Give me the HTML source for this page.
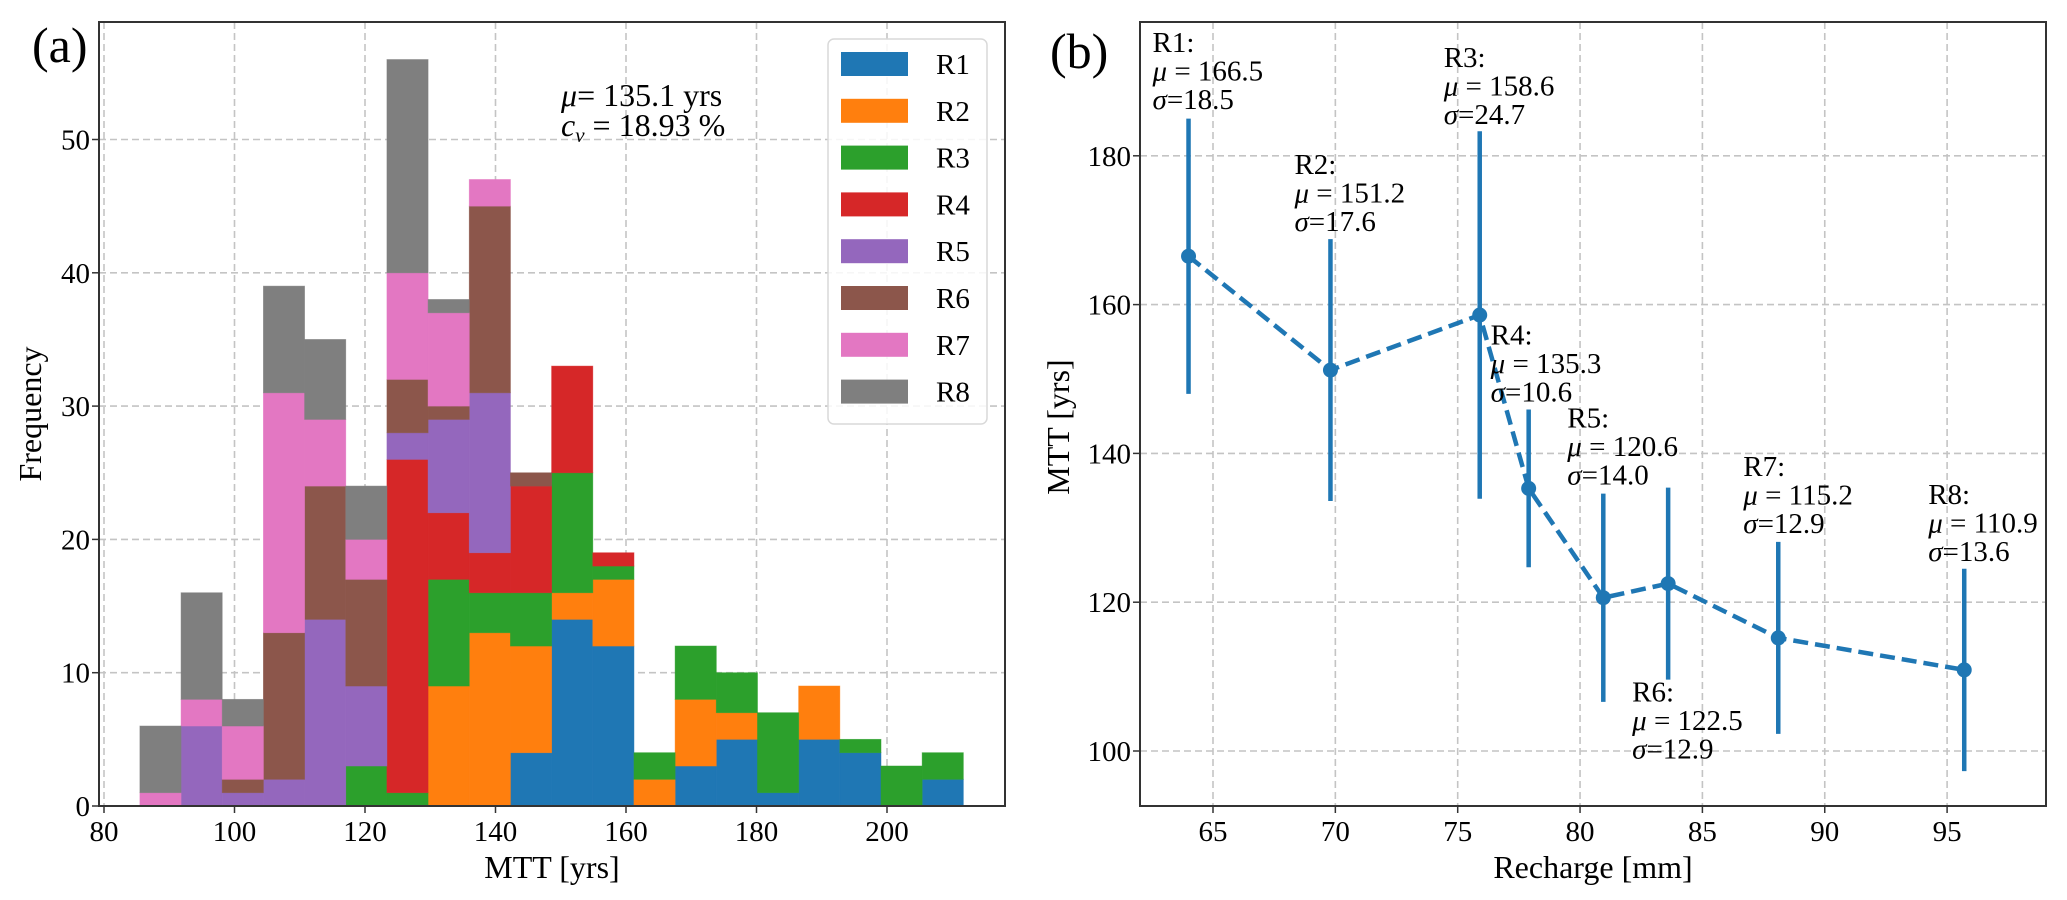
<!DOCTYPE html>
<html><head><meta charset="utf-8"><style>
html,body{margin:0;padding:0;background:#fff;}
svg{display:block;font-family:"Liberation Serif",serif;}
</style></head><body>
<svg id="fig" width="2067" height="900" viewBox="0 0 2067 900" xmlns="http://www.w3.org/2000/svg">
<g id="pa"></g>
<g id="pb"></g>
</svg>
<script>
// ---------- Panel (a) data ----------
const binStart = 85.5;
const binWidth = 6.31;
const regions = ["R1","R2","R3","R4","R5","R6","R7","R8"];
const colors = ["#1f77b4","#ff7f0e","#2ca02c","#d62728","#9467bd","#8c564b","#e377c2","#7f7f7f"];
const R1 = [0,0,0,0,0,0,0,0,0,4,14,12,0,3,5,1,5,4,0,2];
const R2 = [0,0,0,0,0,0,0,9,13,8,2,5,2,5,2,0,4,0,0,0];
const R3 = [0,0,0,0,0,3,1,8,3,4,9,1,2,4,3,6,0,1,3,2];
const R4 = [0,0,0,0,0,0,25,5,3,8,8,1,0,0,0,0,0,0,0,0];
const R5 = [0,6,1,2,14,6,2,7,12,0,0,0,0,0,0,0,0,0,0,0];
const R6 = [0,0,1,11,10,8,4,1,14,1,0,0,0,0,0,0,0,0,0,0];
const R7 = [1,2,4,18,5,3,8,7,2,0,0,0,0,0,0,0,0,0,0,0];
const R8 = [5,8,2,8,6,4,16,1,0,0,0,0,0,0,0,0,0,0,0,0];
const histTicksX = [80,100,120,140,160,180,200];
const histTicksY = [0,10,20,30,40,50];
// ---------- Panel (b) data ----------
const recharge = [64.0,69.8,75.9,77.9,80.95,83.6,88.1,95.7];
const mttMean = [166.5,151.2,158.6,135.3,120.6,122.5,115.2,110.9];
const mttSigma = [18.5,17.6,24.7,10.6,14.0,12.9,12.9,13.6];
const ptLabels = ["R1","R2","R3","R4","R5","R6","R7","R8"];
const rechTicksX = [65,70,75,80,85,90,95];
const rechTicksY = [100,120,140,160,180];

const NS="http://www.w3.org/2000/svg";
function mk(parent,tag,attrs,text){const e=document.createElementNS(NS,tag);for(const k in attrs)e.setAttribute(k,attrs[k]);if(text!==undefined)e.textContent=text;parent.appendChild(e);return e;}
const GRID={stroke:"#c4c4c4","stroke-width":1.6,"stroke-dasharray":"7,4",fill:"none"};

// ---------- Panel (a) ----------
(function(){
  const g=document.getElementById('pa');
  const L=99,R=1005,T=22,B=806;
  const xs=v=>104+(v-80)*6.525;
  const ys=v=>806-v*13.33;
  const series=[R1,R2,R3,R4,R5,R6,R7,R8];
  histTicksX.forEach(t=>{const l=mk(g,'line',Object.assign({x1:xs(t),x2:xs(t),y1:T,y2:B},GRID));
    
    });
  histTicksY.forEach(t=>{const l=mk(g,'line',Object.assign({x1:L,x2:R,y1:ys(t),y2:ys(t)},GRID));
    
    });
  const cum=new Array(R1.length).fill(0);
  series.forEach((s,si)=>{
    s.forEach((v,i)=>{
      if(v<=0)return;
      const x0=xs(binStart+i*binWidth), x1=xs(binStart+(i+1)*binWidth);
      const r=mk(g,'rect',{x:x0,y:ys(cum[i]+v),width:x1-x0,height:ys(cum[i])-ys(cum[i]+v),fill:colors[si],stroke:colors[si],"stroke-width":0.8,"stroke-opacity":0.6});
      
      
      cum[i]+=v;
    });
  });
  const f=mk(g,'rect',{x:L,y:T,width:R-L,height:B-T,fill:"none",stroke:"#333","stroke-width":2});
  
  
  histTicksX.forEach(t=>{mk(g,'line',{x1:xs(t),x2:xs(t),y1:B,y2:B+7,stroke:"#333","stroke-width":1.5});
    const tx=mk(g,'text',{x:xs(t),y:841,"font-size":29,"text-anchor":"middle"},String(t));
    
    });
  histTicksY.forEach(t=>{mk(g,'line',{x1:L-7,x2:L,y1:ys(t),y2:ys(t),stroke:"#333","stroke-width":1.5});
    const tx=mk(g,'text',{x:90,y:ys(t)+10,"font-size":29,"text-anchor":"end"},String(t));
    
    });
  const xl=mk(g,'text',{x:552,y:878,"font-size":32,"text-anchor":"middle"},"MTT [yrs]");
  
  
  const yl=mk(g,'text',{x:0,y:0,"font-size":32,"text-anchor":"middle",transform:"translate(41,414) rotate(-90)"},"Frequency");
  
  
  const pl=mk(g,'text',{x:32,y:62,"font-size":50},"(a)");
  
  
  const a1=mk(g,'text',{x:561,y:106,"font-size":32},"");
  
  
  mk(a1,'tspan',{"font-style":"italic"},"μ");mk(a1,'tspan',{},"= 135.1 yrs");
  const a2=mk(g,'text',{x:561,y:136,"font-size":32},"");
  
  
  mk(a2,'tspan',{"font-style":"italic"},"c");mk(a2,'tspan',{"font-style":"italic","font-size":21,dy:6},"v");mk(a2,'tspan',{dy:-6},"  = 18.93  %");
  const lg=mk(g,'g',{});
  
  
  mk(lg,'rect',{x:828,y:39,width:159,height:385,rx:6,fill:"#fff","fill-opacity":0.85,stroke:"#d9d9d9","stroke-width":1.5});
  regions.forEach((r,i)=>{
    const e=mk(lg,'g',{});
    
    
    const cy=64+i*46.8;
    mk(e,'rect',{x:841,y:cy-12,width:67,height:24,fill:colors[i]});
    mk(e,'text',{x:936,y:cy+10,"font-size":29},r);
  });
})();

// ---------- Panel (b) ----------
(function(){
  const g=document.getElementById('pb');
  const L=1140,R=2046,T=22,B=806;
  const xs=v=>1213+(v-65)*24.47;
  const ys=v=>751-(v-100)*7.44;
  rechTicksX.forEach(t=>{const l=mk(g,'line',Object.assign({x1:xs(t),x2:xs(t),y1:T,y2:B},GRID));
    
    });
  rechTicksY.forEach(t=>{const l=mk(g,'line',Object.assign({x1:L,x2:R,y1:ys(t),y2:ys(t)},GRID));
    
    });
  const col="#1f77b4";
  recharge.forEach((x,i)=>{
    const l=mk(g,'line',{x1:xs(x),x2:xs(x),y1:ys(mttMean[i]-mttSigma[i]),y2:ys(mttMean[i]+mttSigma[i]),stroke:col,"stroke-width":4.5});
    
    
  });
  const pts=recharge.map((x,i)=>xs(x)+','+ys(mttMean[i])).join(' ');
  const pl=mk(g,'polyline',{points:pts,fill:"none",stroke:col,"stroke-width":4.5,"stroke-dasharray":"15,7"});
  
  
  recharge.forEach((x,i)=>{
    const c=mk(g,'circle',{cx:xs(x),cy:ys(mttMean[i]),r:7.5,fill:col});
    
    
  });
  const lblOff=[[-36,-214],[-36,-206],[-36,-258],[-38,-154],[-36,-180],[-36,108],[-35,-172],[-36,-176]];
  recharge.forEach((x,i)=>{
    const px=xs(x)+lblOff[i][0], py=ys(mttMean[i])+lblOff[i][1];
    const t=mk(g,'g',{});
    
    
    mk(t,'text',{x:px,y:py+10,"font-size":29},ptLabels[i]+":");
    const t2=mk(t,'text',{x:px,y:py+38.5,"font-size":29},"");
    mk(t2,'tspan',{"font-style":"italic"},"μ");mk(t2,'tspan',{}," = "+mttMean[i].toFixed(1));
    const t3=mk(t,'text',{x:px,y:py+67,"font-size":29},"");
    mk(t3,'tspan',{"font-style":"italic"},"σ");mk(t3,'tspan',{},"="+mttSigma[i].toFixed(1));
  });
  const f=mk(g,'rect',{x:L,y:T,width:R-L,height:B-T,fill:"none",stroke:"#333","stroke-width":2});
  
  
  rechTicksX.forEach(t=>{mk(g,'line',{x1:xs(t),x2:xs(t),y1:B,y2:B+7,stroke:"#333","stroke-width":1.5});
    const tx=mk(g,'text',{x:xs(t),y:841,"font-size":29,"text-anchor":"middle"},String(t));
    
    });
  rechTicksY.forEach(t=>{mk(g,'line',{x1:L-7,x2:L,y1:ys(t),y2:ys(t),stroke:"#333","stroke-width":1.5});
    const tx=mk(g,'text',{x:1131,y:ys(t)+10,"font-size":29,"text-anchor":"end"},String(t));
    
    });
  const xl=mk(g,'text',{x:1593,y:878,"font-size":32,"text-anchor":"middle"},"Recharge [mm]");
  
  
  const yl=mk(g,'text',{x:0,y:0,"font-size":32,"text-anchor":"middle",transform:"translate(1069,427) rotate(-90)"},"MTT [yrs]");
  
  
  const pb=mk(g,'text',{x:1050,y:68,"font-size":50},"(b)");
  
  
})();
</script>
</body></html>
